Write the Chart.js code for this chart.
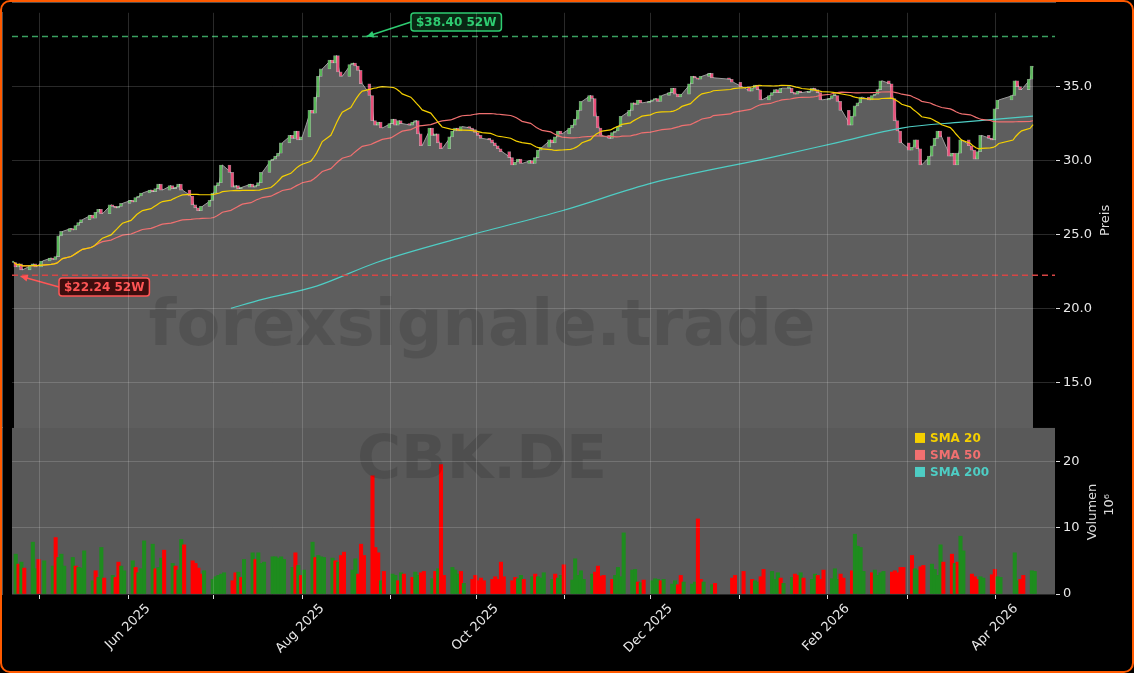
<!DOCTYPE html>
<html>
<head>
<meta charset="utf-8">
<script src="https://cdn.jsdelivr.net/npm/chart.js"></script>
<style>
  html, body { margin: 0; padding: 0; background: #000; }
  #wrap { width: 1130px; height: 669px; border: 2px solid #ff5a00; border-radius: 10px; background: #000; overflow: hidden; }
</style>
</head>
<body>
<div id="wrap"><canvas id="chart" width="1130" height="669"></canvas></div>
<script>
// daily closes, first trading day 22 Apr 2025
const closes = [
  23.1, 22.8, 23.0, 22.6, 22.9, 23.0, 22.8, 23.2, 23.4, 23.3,
  23.5, 24.9, 25.2, 25.4, 25.3, 25.6, 25.8, 26.0, 26.3, 26.1,
  26.5, 26.7, 26.4, 27.0, 26.9, 26.8, 26.9, 27.1, 27.3, 27.2,
  27.5, 27.6, 27.8, 28.0, 27.9, 28.1, 28.4, 28.0, 28.3, 28.1,
  28.2, 28.4, 28.0, 27.6, 27.0, 26.8, 26.6, 26.9, 27.3, 27.8,
  28.3, 28.5, 29.7, 29.2, 28.2, 28.3, 28.1, 28.2, 28.4, 28.2,
  28.3, 28.5, 29.2, 30.0, 30.1, 30.3, 30.5, 31.2, 31.7, 31.5,
  32.0, 31.4, 31.6, 33.4, 33.2, 34.3, 35.7, 36.2, 36.8, 36.6,
  37.1, 36.0, 35.7, 36.5, 36.6, 36.4, 36.1, 35.2, 34.4, 32.7,
  32.4, 32.6, 32.2, 32.5, 32.8, 32.4, 32.7, 32.5, 32.4, 32.6,
  32.7, 31.8, 31.0, 32.2, 31.7, 31.8, 31.2, 30.8, 31.6, 32.0,
  32.2, 32.0, 32.3, 32.2, 32.1, 31.9, 31.7, 31.5, 31.4, 31.2,
  31.0, 30.8, 30.6, 30.2, 29.7, 29.9, 30.1, 29.8, 30.0, 29.8,
  30.2, 30.7, 30.9, 31.4, 31.2, 31.6, 32.0, 31.8, 32.2, 32.4,
  32.8, 33.4, 34.0, 34.4, 34.2, 33.0, 32.2, 31.7, 31.5, 31.9,
  32.0, 32.3, 33.0, 33.4, 33.9, 33.8, 34.1, 33.9, 34.0, 34.1,
  34.2, 34.0, 34.4, 34.6, 34.9, 34.5, 34.3, 34.5, 35.2, 35.7,
  35.6, 35.5, 35.7, 35.9, 35.6, 35.5, 35.3, 35.0, 34.7, 34.9,
  35.1, 34.8, 34.1, 34.4, 34.6, 34.8, 34.6, 34.9, 34.9, 34.6,
  34.5, 34.7, 34.6, 34.7, 34.9, 34.8, 34.6, 34.1, 34.2, 34.4,
  34.4, 34.0, 33.4, 32.4, 33.0, 33.7, 33.9, 34.3, 34.1, 34.4,
  34.5, 34.8, 35.4, 35.2, 34.2, 32.7, 32.0, 31.2, 30.7, 30.9,
  31.4, 30.8, 29.7, 30.3, 31.0, 31.5, 32.0, 31.6, 30.3, 30.5,
  29.7, 30.5, 31.4, 31.0, 30.7, 30.1, 30.6, 31.7, 31.5, 31.4,
  33.5, 34.1, 34.4, 35.4, 35.0, 34.8, 35.5, 36.4
];
// volume in millions
const volumes = [
  6.0, 4.5, 4.8, 3.9, 7.8, 3.8, 5.2, 5.0, 4.2, 8.5,
  5.5, 6.0, 4.2, 5.5, 4.2, 4.0, 3.9, 6.5, 2.0, 3.5,
  2.5, 7.0, 2.4, 2.8, 2.5, 4.8, 4.2, 3.5, 5.0, 4.0,
  3.2, 3.8, 8.0, 7.5, 3.8, 4.0, 5.4, 6.6, 4.6, 4.2,
  3.6, 8.2, 7.4, 5.0, 4.6, 3.9, 3.0, 3.5, 2.2, 2.6,
  2.8, 3.0, 3.2, 2.0, 3.2, 3.3, 2.5, 5.2, 6.2, 5.2,
  6.2, 4.6, 4.8, 5.6, 5.6, 5.4, 5.6, 5.2, 4.0, 6.2,
  4.3, 2.8, 3.6, 7.8, 5.5, 5.8, 5.6, 5.5, 5.4, 5.0,
  4.8, 5.8, 6.3, 3.6, 5.3, 3.0, 7.5, 5.8, 17.8, 7.0,
  6.2, 2.0, 3.4, 3.0, 2.8, 2.0, 3.2, 3.0, 2.5, 3.3,
  2.8, 3.2, 3.4, 2.3, 3.4, 3.8, 19.5, 2.8, 4.0, 3.6,
  3.0, 3.4, 1.6, 2.2, 2.8, 2.0, 2.4, 2.0, 2.2, 2.6,
  2.2, 4.8, 2.6, 2.0, 2.5, 2.3, 2.8, 2.2, 2.6, 3.0,
  2.6, 2.4, 3.2, 2.2, 3.0, 2.4, 2.8, 4.4, 2.1, 5.3,
  2.8, 3.5, 2.2, 3.0, 3.3, 4.2, 2.7, 2.8, 2.2, 2.8,
  4.0, 2.6, 9.2, 3.6, 3.7, 1.8, 1.7, 2.1, 2.0, 2.3,
  2.2, 2.0, 2.2, 1.5, 2.0, 1.4, 2.8, 1.8, 1.5, 1.8,
  11.3, 2.2, 1.8, 1.4, 1.6, 2.4, 2.8, 3.4, 2.2, 2.0,
  1.8, 2.6, 3.7, 3.4, 2.2, 3.2, 2.4, 1.6, 2.5, 3.0,
  2.8, 3.2, 2.4, 2.2, 3.0, 2.8, 2.2, 3.6, 2.3, 3.8,
  2.2, 3.0, 2.4, 3.5, 9.0, 7.2, 7.0, 3.4, 3.2, 3.6,
  2.8, 3.2, 3.4, 3.3, 3.5, 3.2, 4.0, 4.0, 5.8, 3.8,
  3.6, 4.1, 4.3, 4.5, 3.7, 2.8, 7.4, 4.8, 6.0, 4.6,
  4.8, 8.7, 6.5, 3.0, 2.6, 2.2, 2.6, 2.4, 2.9, 3.7,
  2.6, 2.5, 6.2, 2.0, 2.2, 2.8, 3.5, 3.4
];
// SMA 200: [trading day index, value]
const sma200Idx = [53, 62, 75, 90, 112, 137, 159, 183, 200, 217, 232, 247];
const sma200Val = [20.0, 20.6, 21.5, 23.1, 24.8, 26.6, 28.5, 30.2, 31.2, 32.2, 32.6, 33.0];
const high52 = 38.40;
const low52 = 22.24;
const holidays = ['2025-05-01', '2025-12-24', '2025-12-25', '2025-12-26', '2025-12-31', '2026-01-01', '2026-04-03', '2026-04-06'];
const monthNames = ['Jan', 'Feb', 'Mar', 'Apr', 'May', 'Jun', 'Jul', 'Aug', 'Sep', 'Oct', 'Nov', 'Dec'];

const base = Date.UTC(2025, 0, 1);
function dayNum(y, m, d) { return (Date.UTC(y, m - 1, d) - base) / 864e5; }

// trading days
const days = [];
let t = Date.UTC(2025, 3, 22);
while (days.length < closes.length) {
    const dt = new Date(t);
    const iso = dt.toISOString().slice(0, 10);
    if (dt.getUTCDay() !== 0 && dt.getUTCDay() !== 6 && holidays.indexOf(iso) < 0) days.push((t - base) / 864e5);
    t += 864e5;
}

function sma(n) {
    return closes.map((c, i) => {
        const s = closes.slice(Math.max(0, i - n + 1), i + 1);
        return { x: days[i], y: s.reduce((a, b) => a + b, 0) / s.length };
    });
}

const monthTicks = [];
const monthLabels = {};
for (let k = 0; k < 12; k++) {
    const m = (4 + k) % 12, y = 2025 + Math.floor((4 + k) / 12);
    const v = dayNum(y, m + 1, 1);
    monthTicks.push(v);
    monthLabels[v] = (m % 2 === 1) ? monthNames[m] + ' ' + y : '';
}

const candles = closes.map((c, i) => ({ x: days[i], y: [i ? closes[i - 1] : c, c] }));
const candleCol = closes.map((c, i) => (i === 0 || c >= closes[i - 1]) ? '#5cb85c' : '#e8507a');
const volCol = closes.map((c, i) => (i === 0 || c >= closes[i - 1]) ? '#1e8c1e' : '#ff0000');

const SMA_COLORS = ['#f5d000', '#f07070', '#4ecdc4'];
const FONT = 'DejaVu Sans';

const panelPlugin = {
    id: 'panels',
    beforeDraw(chart) {
        const { ctx, chartArea } = chart;
        const yv = chart.scales.yv;
        ctx.save();
        ctx.fillStyle = '#595959';
        ctx.fillRect(chartArea.left, yv.top, chartArea.right - chartArea.left, yv.bottom - yv.top);
        ctx.restore();
    },
    afterDraw(chart) {
        const { ctx } = chart;
        const y = chart.scales.y, yv = chart.scales.yv;
        ctx.save();
        ctx.fillStyle = '#dddddd';
        ctx.font = '13px ' + FONT;
        ctx.textAlign = 'center';
        ctx.textBaseline = 'middle';
        [['Preis', 1104, (y.top + y.bottom) / 2], ['Volumen', 1091, (yv.top + yv.bottom) / 2 + 1], ['10⁶', 1108, (yv.top + yv.bottom) / 2 - 6]].forEach(([s, px, py]) => {
            ctx.save(); ctx.translate(px, py); ctx.rotate(-Math.PI / 2); ctx.fillText(s, 0, 0); ctx.restore();
        });
        ctx.restore();
    },
    afterDatasetsDraw(chart) {
        const { ctx, chartArea } = chart;
        const x = chart.scales.x, y = chart.scales.y, yv = chart.scales.yv;
        ctx.save();
        // watermarks
        ctx.fillStyle = 'rgba(0,0,0,0.12)';
        ctx.textAlign = 'center';
        ctx.textBaseline = 'middle';
        ctx.font = 'bold 64px ' + FONT;
        ctx.fillText('forexsignale.trade', 480, 326);
        ctx.font = 'bold 60px ' + FONT;
        ctx.fillText('CBK.DE', 480, 460);

        // 52W lines
        ctx.lineWidth = 1.5;
        ctx.setLineDash([6, 4]);
        [[high52, '#3aa060'], [low52, '#d84545']].forEach(([v, c]) => {
            const py = y.getPixelForValue(v);
            ctx.strokeStyle = c;
            ctx.beginPath(); ctx.moveTo(chartArea.left, py); ctx.lineTo(chartArea.right, py); ctx.stroke();
        });
        ctx.setLineDash([]);

        // labels with arrows
        const hiIdx = closes.indexOf(Math.max(...closes));
        const loIdx = closes.indexOf(Math.min(...closes));
        const labels = [
            { text: '$' + high52.toFixed(2) + ' 52W', tx: x.getPixelForValue(days[hiIdx]) + 30, ty: y.getPixelForValue(high52), bx: 409, by: 11, col: '#2ecc71', bg: 'rgba(10,40,20,0.95)' },
            { text: '$' + low52.toFixed(2) + ' 52W', tx: x.getPixelForValue(days[loIdx]) - 2, ty: y.getPixelForValue(low52) + 1, bx: 57, by: 276, col: '#ff5555', bg: 'rgba(60,10,10,0.95)' }
        ];
        ctx.font = 'bold 12px ' + FONT;
        labels.forEach(l => {
            const w = ctx.measureText(l.text).width + 10, h = 18;
            ctx.strokeStyle = l.col; ctx.fillStyle = l.col; ctx.lineWidth = 1.5;
            const sx = l.bx, sy = l.by + h / 2;
            ctx.beginPath(); ctx.moveTo(sx, sy); ctx.lineTo(l.tx, l.ty); ctx.stroke();
            const ang = Math.atan2(l.ty - sy, l.tx - sx);
            ctx.beginPath();
            ctx.moveTo(l.tx, l.ty);
            ctx.lineTo(l.tx - 8 * Math.cos(ang - 0.45), l.ty - 8 * Math.sin(ang - 0.45));
            ctx.lineTo(l.tx - 8 * Math.cos(ang + 0.45), l.ty - 8 * Math.sin(ang + 0.45));
            ctx.closePath(); ctx.fill();
            ctx.fillStyle = l.bg;
            ctx.beginPath(); ctx.roundRect(l.bx, l.by, w, h, 3); ctx.fill(); ctx.stroke();
            ctx.fillStyle = l.col; ctx.textAlign = 'left';
            ctx.fillText(l.text, l.bx + 5, l.by + h / 2 + 1);
        });

        // legend
        const names = ['SMA 20', 'SMA 50', 'SMA 200'];
        ctx.font = 'bold 12px ' + FONT;
        names.forEach((n, i) => {
            const ly = yv.top + 10 + i * 17;
            ctx.fillStyle = SMA_COLORS[i];
            ctx.fillRect(913, ly - 5, 10, 10);
            ctx.fillText(n, 928, ly + 1);
        });
        ctx.restore();
    }
};

new Chart(document.getElementById('chart'), {
    data: {
        datasets: [
            { type: 'line', label: 'Close', data: closes.map((c, i) => ({ x: days[i], y: c })), yAxisID: 'y',
              borderColor: '#9a9a9a', borderWidth: 1, backgroundColor: '#5e5e5e', fill: 'start', pointRadius: 0, tension: 0, order: 10 },
            { type: 'bar', label: 'Candles', data: candles, yAxisID: 'y', backgroundColor: candleCol,
              borderColor: 'rgba(255,255,255,0.5)', borderWidth: 0.6, borderSkipped: false, barThickness: 3, minBarLength: 1.5, order: 3 },
            { type: 'line', label: 'SMA 20', data: sma(20), yAxisID: 'y', borderColor: SMA_COLORS[0], borderWidth: 1.2, pointRadius: 0, order: 1 },
            { type: 'line', label: 'SMA 50', data: sma(50), yAxisID: 'y', borderColor: SMA_COLORS[1], borderWidth: 1.2, pointRadius: 0, order: 1 },
            { type: 'line', label: 'SMA 200', data: sma200Idx.map((k, i) => ({ x: days[k], y: sma200Val[i] })), yAxisID: 'y',
              borderColor: SMA_COLORS[2], borderWidth: 1.2, pointRadius: 0, cubicInterpolationMode: 'monotone', order: 1 },
            { type: 'bar', label: 'Volumen', data: volumes.map((v, i) => ({ x: days[i], y: v })), yAxisID: 'yv',
              backgroundColor: volCol, barThickness: 3.4, order: 5 }
        ]
    },
    options: {
        responsive: false,
        animation: false,
        layout: { padding: { left: 10, top: 10, right: 0, bottom: 0 } },
        plugins: { legend: { display: false }, tooltip: { enabled: false } },
        scales: {
            x: {
                type: 'linear', min: 110.3, max: 475.7, offset: false,
                afterBuildTicks: s => { s.ticks = monthTicks.map(v => ({ value: v })); },
                afterFit: s => { s.height = 77; },
                ticks: { color: '#e8e8e8', font: { family: FONT, size: 13 }, minRotation: 45, maxRotation: 45,
                         autoSkip: false, labelOffset: 20, padding: 2, callback: v => monthLabels[v] },
                grid: { color: 'rgba(255,255,255,0.16)', tickColor: '#ddd', tickLength: 5, offset: false, z: 1 },
                border: { color: '#999' }
            },
            y: {
                type: 'linear', position: 'right', stack: 'p', stackWeight: 2.5, min: 11.9, max: 40,
                afterBuildTicks: s => { s.ticks = [15, 20, 25, 30, 35].map(v => ({ value: v })); },
                afterFit: s => { s.width = 77; },
                ticks: { color: '#e8e8e8', font: { family: FONT, size: 13 }, callback: v => v.toFixed(1) },
                grid: { color: 'rgba(255,255,255,0.16)', tickColor: '#ddd', tickLength: 5, z: 1 },
                border: { color: '#999' }
            },
            yv: {
                type: 'linear', position: 'right', stack: 'p', stackWeight: 1, min: 0, max: 25,
                afterBuildTicks: s => { s.ticks = [0, 10, 20].map(v => ({ value: v })); },
                afterFit: s => { s.width = 77; },
                ticks: { color: '#e8e8e8', font: { family: FONT, size: 13 } },
                grid: { color: 'rgba(255,255,255,0.16)', tickColor: '#ddd', tickLength: 5, z: 1 },
                border: { color: '#999' }
            }
        }
    },
    plugins: [panelPlugin]
});
</script>
</body>
</html>
